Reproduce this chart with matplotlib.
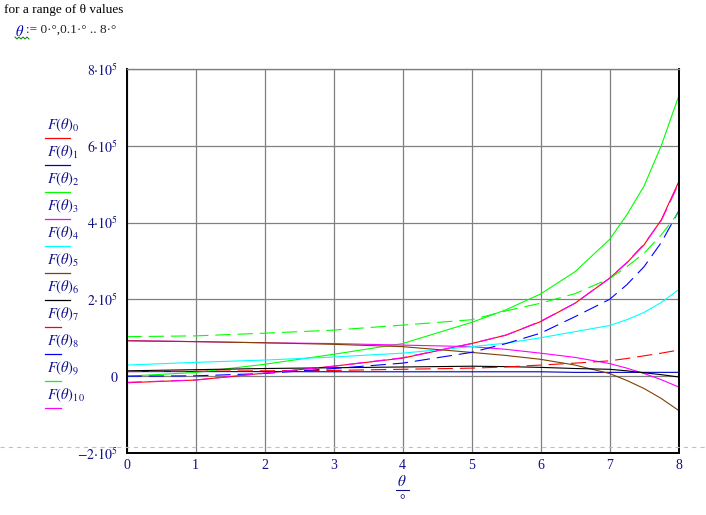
import numpy as np
import matplotlib.pyplot as plt
from matplotlib.lines import Line2D

plt.rcParams['mathtext.fontset'] = 'stix'
plt.rcParams['font.family'] = 'Liberation Serif'
plt.rcParams['lines.scale_dashes'] = False

# theta in degrees, F(theta)_i
theta = [0, 1, 2, 3, 4, 5, 5.5, 6, 6.5, 7, 7.25, 7.5, 7.75, 8]

F0 = [-1.7e4, -1.0e4, 8e3, 2.6e4, 4.7e4, 8.5e4, 1.07e5, 1.42e5, 1.9e5, 2.55e5, 2.95e5, 3.42e5, 4.07e5, 5.05e5]
F1 = [1.2e4, 1.2e4, 1.2e4, 1.15e4, 1.15e4, 1.15e4, 1.15e4, 1.15e4, 1.0e4, 1.0e4, 1.0e4, 1.0e4, 1.0e4, 1.0e4]
F2 = [0, 9.7e3, 3.1e4, 5.7e4, 8.5e4, 1.4e5, 1.73e5, 2.14e5, 2.72e5, 3.56e5, 4.2e5, 4.95e5, 6.0e5, 7.28e5]
F3 = [9.3e4, 9.0e4, 8.7e4, 8.5e4, 8.1e4, 7.7e4, 7.0e4, 6.0e4, 4.9e4, 3.3e4, 2.1e4, 7e3, -9e3, -2.8e4]
F4 = [2.9e4, 3.6e4, 4.2e4, 5.0e4, 6.0e4, 7.7e4, 8.6e4, 1.0e5, 1.16e5, 1.32e5, 1.47e5, 1.66e5, 1.92e5, 2.25e5]
F5 = [9.2e4, 9.0e4, 8.7e4, 8.3e4, 7.7e4, 6.2e4, 5.4e4, 4.4e4, 2.9e4, 7e3, -1.1e4, -3.2e4, -5.8e4, -8.9e4]
F6 = [1.4e4, 1.7e4, 2.0e4, 2.2e4, 2.4e4, 2.6e4, 2.5e4, 2.3e4, 2.0e4, 1.8e4, 1.4e4, 9e3, 4e3, -2e3]
F7 = [1.2e4, 1.3e4, 1.4e4, 1.5e4, 1.8e4, 2.1e4, 2.4e4, 2.9e4, 3.4e4, 4.0e4, 4.6e4, 5.3e4, 6.0e4, 6.8e4]
F8 = [0, 1e3, 7e3, 2.0e4, 3.4e4, 6.2e4, 8.5e4, 1.12e5, 1.55e5, 2.0e5, 2.38e5, 2.85e5, 3.48e5, 4.29e5]
F9 = [1.03e5, 1.05e5, 1.12e5, 1.2e5, 1.33e5, 1.47e5, 1.7e5, 1.9e5, 2.15e5, 2.54e5, 2.85e5, 3.2e5, 3.68e5, 4.26e5]
F10 = [-1.6e4, -1.0e4, 8e3, 2.6e4, 4.8e4, 8.5e4, 1.07e5, 1.43e5, 1.9e5, 2.55e5, 2.96e5, 3.44e5, 4.05e5, 5.0e5]

series = [F0, F1, F2, F3, F4, F5, F6, F7, F8, F9, F10]
colors = ['#ff0000', '#0000c8', '#00ff00', '#ff00ff', '#00ffff', '#804000',
          '#000000', '#ff0000', '#0000ff', '#00ff00', '#ff00ff']
dash = (0, (11, 5))
styles = ['-'] * 7 + [dash] * 4

xticks = [0, 1, 2, 3, 4, 5, 6, 7, 8]
yticks = [-2e5, 0, 2e5, 4e5, 6e5, 8e5]
ytick_labels = [r'$-2{\cdot}10^{5}$', r'$0$', r'$2{\cdot}10^{5}$',
                r'$4{\cdot}10^{5}$', r'$6{\cdot}10^{5}$', r'$8{\cdot}10^{5}$']

W, H = 706, 515
navy = '#10108a'


def fx(px):
    return px / W


def fy(py):
    return 1 - py / H


fig = plt.figure(figsize=(W / 100, H / 100), dpi=100)
ax = fig.add_axes([fx(126.5), fy(453), (678.5 - 126.5) / W, (453 - 69) / H])

for vals, c, ls in zip(series, colors, styles):
    ax.plot(theta, vals, color=c, linestyle=ls, lw=0.8)

ax.set_xlim(0, 8)
ax.set_ylim(-2e5, 8e5)
ax.set_xticks(xticks)
ax.set_xticklabels([str(t) for t in xticks], color=navy, fontsize=10)
ax.set_yticks(yticks)
ax.set_yticklabels(ytick_labels, color=navy, fontsize=10)
ax.tick_params(length=0)
ax.tick_params(axis='x', pad=4)
ax.tick_params(axis='y', pad=6)
ax.grid(True, color='#808080', lw=0.9)
ax.set_axisbelow(True)
for side in ['left', 'bottom', 'right']:
    ax.spines[side].set_color('black')
    ax.spines[side].set_linewidth(1.4)
ax.spines['top'].set_color('#808080')
ax.spines['top'].set_linewidth(1.0)

# x axis label: theta over degree
fig.text(fx(402), fy(481), r'$\theta$', color=navy, fontsize=11, ha='center', va='center')
fig.add_artist(Line2D([fx(396), fx(409)], [fy(490), fy(490)], color=navy, lw=0.8))
fig.text(fx(402.5), fy(501), '°', color=navy, fontsize=10, ha='center', va='center')

# legend drawn Mathcad style: label above its line
for i, (c, ls) in enumerate(zip(colors, styles)):
    ly = 138 + 27 * i
    fig.text(fx(47), fy(ly - 13), r'$F(\theta)_{%d}$' % i, color=navy, fontsize=10.5,
             ha='left', va='center')
    x_end = 70 if ls == '-' else 61
    fig.add_artist(Line2D([fx(45), fx(x_end)], [fy(ly), fy(ly)], color=c, lw=0.9))

# worksheet text above the plot
fig.text(fx(4), fy(10), 'for a range of θ values', fontsize=9.5, va='center', ha='left')
fig.text(fx(15), fy(31), r'$\theta$', color='#0000c0', fontsize=10.5, va='center', ha='left')
fig.text(fx(26), fy(30), ':= 0·°,0.1·° .. 8·°', fontsize=9.5, va='center', ha='left', color='#202020')
zx = np.arange(15, 30, 2)
zy = [37 if k % 2 == 0 else 39 for k in range(len(zx))]
fig.add_artist(Line2D([fx(v) for v in zx], [fy(v) for v in zy], color='#008000', lw=0.7))

# region separator
fig.add_artist(Line2D([0, 1], [fy(447), fy(447)], color='#c0c0c0', lw=0.8,
                      linestyle=(0, (3, 3)), zorder=10))

plt.savefig('out.png', dpi=100)
